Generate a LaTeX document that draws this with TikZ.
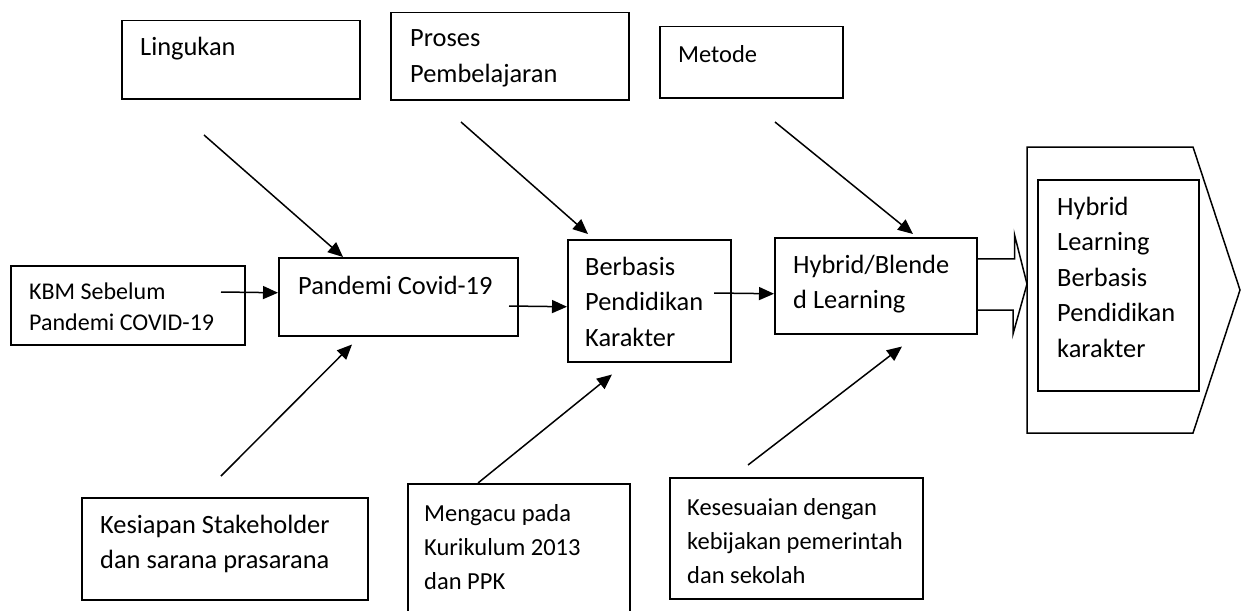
\documentclass[tikz,border=0pt]{standalone}
\usepackage{fontspec}
\setmainfont{Carlito}
\usetikzlibrary{arrows.meta}
\newcommand{\txtl}[1]{\begin{tabular}[t]{@{}l@{}}#1\end{tabular}}
\tikzset{
  box/.style={draw, line width=1.5pt, inner sep=0pt, anchor=north west},
  txt/.style={inner sep=0pt, anchor=base west, font=\fontsize{26.4pt}{35.6pt}\selectfont},
  midtxt/.style={inner sep=0pt, anchor=base west, font=\fontsize{24.5pt}{34pt}\selectfont},
  smalltxt/.style={inner sep=0pt, anchor=base west, font=\fontsize{24pt}{31pt}\selectfont},
  conn/.style={line width=1.5pt, -{Triangle[length=15pt,width=13pt]}},
  edge/.style={line width=1.5pt, line join=miter}
}
\begin{document}
\begin{tikzpicture}[x=1pt, y=-1pt]
\useasboundingbox[fill=white] (0,0) rectangle (1241,610);
% top boxes
\node[box, minimum width=238pt, minimum height=78pt] (lin) at (121,20) {};
\node[txt] (lintx) at ([shift={(19pt,-36pt)}]lin.north west) {\txtl{Lingukan}};
\node[box, minimum width=238pt, minimum height=87pt] (pros) at (390,12) {};
\node[txt] (prostx) at ([shift={(20pt,-35pt)}]pros.north west) {\txtl{Proses\\Pembelajaran}};
\node[box, minimum width=183pt, minimum height=71pt] (met) at (659,26) {};
\node[midtxt] (mettx) at ([shift={(19pt,-37pt)}]met.north west) {\txtl{Metode}};
% middle row
\node[box, minimum width=234pt, minimum height=79pt] (kbm) at (10,265) {};
\node[smalltxt] (kbmtx) at ([shift={(19pt,-34pt)}]kbm.north west) {\txtl{KBM Sebelum\\Pandemi COVID-19}};
\node[box, minimum width=239pt, minimum height=78pt] (pan) at (278,257) {};
\node[txt] (pantx) at ([shift={(20pt,-37pt)}]pan.north west) {\txtl{Pandemi Covid-19}};
\node[box, minimum width=163pt, minimum height=122pt] (ber) at (567,239) {};
\node[txt] (bertx) at ([shift={(18pt,-36pt)}]ber.north west) {\txtl{Berbasis\\Pendidikan\\Karakter}};
\node[box, minimum width=202pt, minimum height=96pt] (hyb) at (774,237) {};
\node[txt] (hybtx) at ([shift={(19pt,-36pt)}]hyb.north west) {\txtl{Hybrid/Blende\\d Learning}};
% result pentagon
\draw[edge] (1027,147) -- (1193,147) -- (1240,290) -- (1193,433) -- (1027,433) -- cycle;
\coordinate (pw) at (1027,284);
\node[box, minimum width=161pt, minimum height=211pt] (res) at (1037,179) {};
\node[txt] (restx) at ([shift={(20pt,-36pt)}]res.north west) {\txtl{Hybrid\\Learning\\Berbasis\\Pendidikan\\karakter}};
% bottom boxes
\node[box, minimum width=286pt, minimum height=102pt] (kes) at (81,497) {};
\node[txt] (kestx) at ([shift={(19pt,-36pt)}]kes.north west) {\txtl{Kesiapan Stakeholder\\dan sarana prasarana}};
\node[box, minimum width=222pt, minimum height=140pt] (meng) at (407,483) {};
\node[midtxt] (mengtx) at ([shift={(17pt,-38pt)}]meng.north west) {\txtl{Mengacu pada\\Kurikulum 2013\\dan PPK}};
\node[box, minimum width=253pt, minimum height=121pt] (kesu) at (669,477) {};
\node[midtxt] (kesutx) at ([shift={(18pt,-38pt)}]kesu.north west) {\txtl{Kesesuaian dengan\\kebijakan pemerintah\\dan sekolah}};
% free line ends
\coordinate (s1) at (204,135);
\coordinate (s2) at (461,122);
\coordinate (s3) at (775,122);
\coordinate (s4) at (221,476);
\coordinate (s5) at (478,483);
\coordinate (s6) at (748,465);
\coordinate (h1) at (221,292);
\coordinate (h2) at (509,306);
\coordinate (h3) at (714,293);
% diagonal arrows
\draw[conn] (s1) -- ([xshift=65pt]pan.north west);
\draw[conn] (s2) -- ([shift={(21pt,5pt)}]ber.north west);
\draw[conn] (s3) -- ([shift={(139pt,3pt)}]hyb.north west);
\draw[conn] (s4) -- ([shift={(74pt,-8pt)}]pan.south west);
\draw[conn] (s5) -- ([shift={(45pt,-12pt)}]ber.south west);
\draw[conn] (s6) -- ([shift={(128pt,-12pt)}]hyb.south west);
% horizontal arrows
\draw[conn] (h1) -- ([yshift=4pt]pan.west);
\draw[conn] (h2) -- ([yshift=-6pt]ber.west);
\draw[conn] (h3) -- ([yshift=-8pt]hyb.west);
% block arrow
\draw[edge] ([yshift=27pt]hyb.east) -- ++(37,0) -- ++(0,-24) -- (pw) -- ++(-14,50) -- ++(0,-24) -- ++(-37,0);
\end{tikzpicture}
\end{document}
